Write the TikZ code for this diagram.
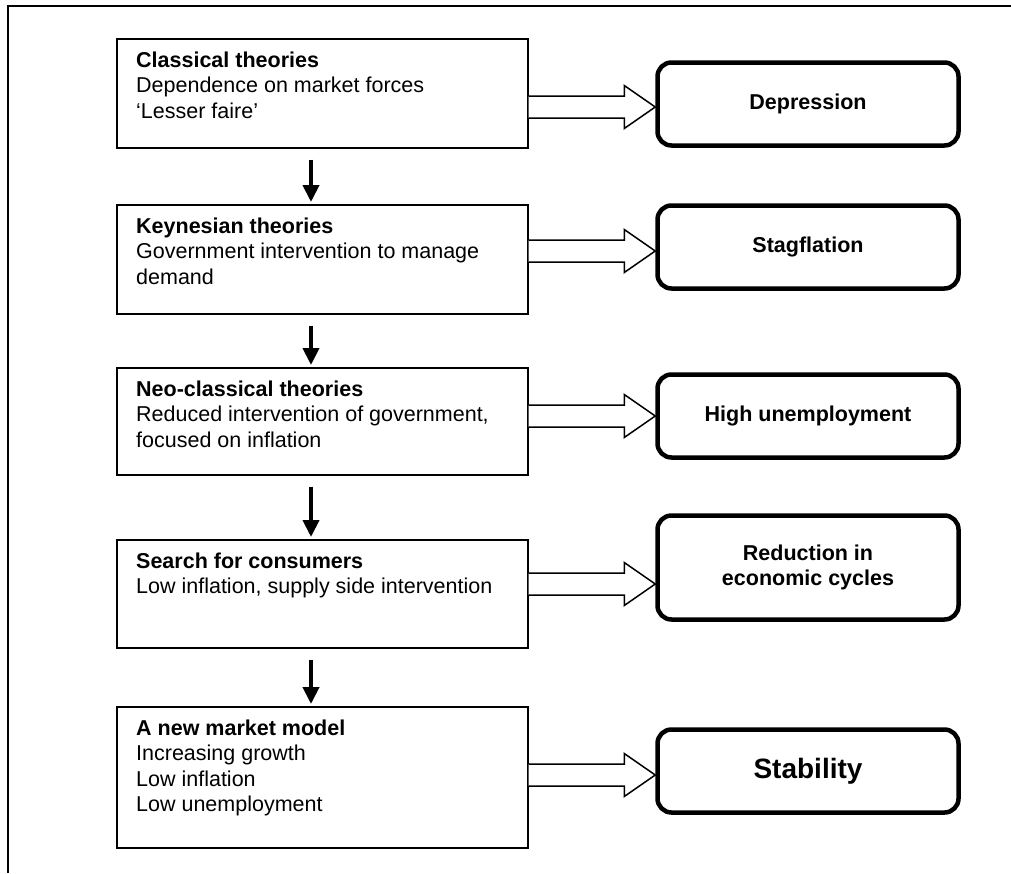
\documentclass[tikz,border=0pt]{standalone}
\usepackage{fontspec}
\setmainfont{Liberation Sans}
\usetikzlibrary{arrows.meta,calc}

\begin{document}
\begin{tikzpicture}[x=1pt, y=-1pt,
  theory/.style={draw, line width=1.7pt, anchor=north west, minimum width=411pt, inner sep=0pt},
  theorytext/.style={anchor=north west, inner sep=0pt, align=left, font=\fontsize{21.5}{25.5}\selectfont},
  outcome/.style={draw, line width=4.5pt, rounded corners=14pt, minimum width=301pt, minimum height=83pt,
    align=center, font=\bfseries\fontsize{21.5}{25.5}\selectfont},
  down/.style={line width=4pt, -{Triangle[width=16pt,length=17pt]}, shorten <=11pt, shorten >=2pt},
  hollow/.style={line width=1.5pt, fill=white, line join=miter}]

\useasboundingbox (0,0) rectangle (1011,873);
\draw[line width=1.5pt] (8,873) -- (8,6) -- (1011,6);

% theories
\node[theory, minimum height=109pt] (classical) at (116,38) {};
\node[theorytext] (classical-t) at ([shift={(20,13.5)}]classical.north west)
  {\textbf{Classical theories}\\Dependence on market forces\\‘Lesser faire’};
\node[theory, minimum height=109pt] (keynes) at (116,204) {};
\node[theorytext] (keynes-t) at ([shift={(20,13.5)}]keynes.north west)
  {\textbf{Keynesian theories}\\Government intervention to manage\\demand};
\node[theory, minimum height=107pt] (neoclass) at (116,367) {};
\node[theorytext] (neoclass-t) at ([shift={(20,13.5)}]neoclass.north west)
  {\textbf{Neo-classical theories}\\Reduced intervention of government,\\focused on inflation};
\node[theory, minimum height=108pt] (search) at (116,539) {};
\node[theorytext] (search-t) at ([shift={(20,13.5)}]search.north west)
  {\textbf{Search for consumers}\\Low inflation, supply side intervention};
\node[theory, minimum height=141pt] (newmodel) at (116,706) {};
\node[theorytext] (newmodel-t) at ([shift={(20,13.5)}]newmodel.north west)
  {\textbf{A new market model}\\Increasing growth\\Low inflation\\Low unemployment};

% outcomes
\node[outcome] (depression) at (808,104) {Depression};
\node[outcome] (stagflation) at (808,247) {Stagflation};
\node[outcome] (unemploy) at (808,416) {High unemployment};
\node[outcome, minimum height=104pt] (cycles) at (808,567.5) {Reduction in\\economic cycles};
\node[outcome, font=\bfseries\fontsize{28}{32}\selectfont] (stability) at (808,771) {Stability};

% downward flow
\coordinate (spine) at (311,0);
\foreach \a/\b in {classical/keynes, keynes/neoclass, neoclass/search, search/newmodel}
  \draw[down] (\a.south -| spine) -- (\b.north -| spine);

% hollow arrows to outcomes
\foreach \a/\b/\y in {classical/depression/107, keynes/stagflation/251, neoclass/unemploy/416,
                      search/cycles/584, newmodel/stability/775}{
  \coordinate (tail) at (\a.east |- 0,\y);
  \coordinate (tip) at (\b.west |- 0,\y);
  \draw[hollow] ($(tail)+(0,-11)$) -- ($(tip)+(-31,-11)$) -- ++(0,-10.5) -- (tip)
    -- ++(-31,21.5) -- ++(0,-10.5) -- ($(tail)+(0,11)$);
}
\end{tikzpicture}
\end{document}
